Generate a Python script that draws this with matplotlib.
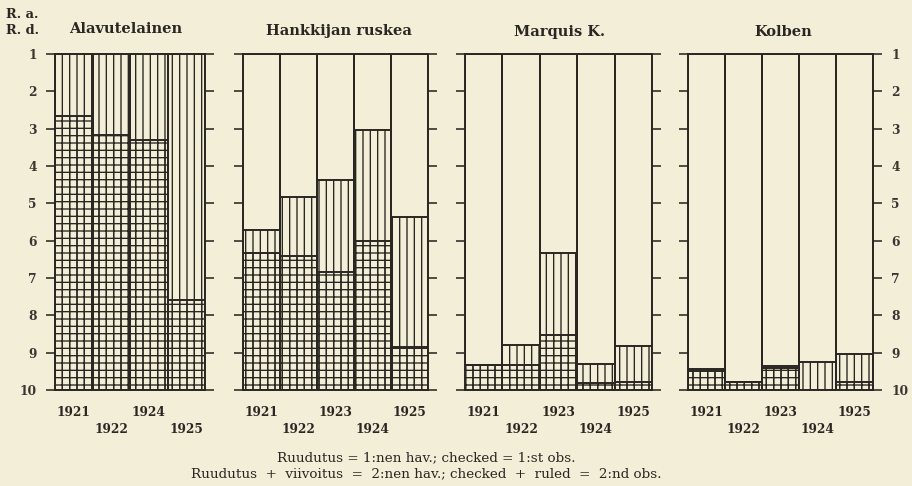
import matplotlib
matplotlib.use("Agg")
import matplotlib.pyplot as plt

# values (scale 1 = top, 10 = bottom)
years_ala = ["1921", "1922", "1924", "1925"]
years = ["1921", "1922", "1923", "1924", "1925"]

ala_checked = [2.67, 3.18, 3.30, 7.59]
ala_ruled = [1.0, 1.0, 1.0, 1.0]

hank_checked = [6.32, 6.41, 6.85, 6.00, 8.84]
hank_ruled = [5.72, 4.83, 4.38, 3.04, 5.37]

marq_checked = [9.32, 9.32, 8.53, 9.80, 9.78]
marq_ruled = [9.32, 8.80, 6.33, 9.30, 8.83]

kolb_checked = [9.48, 9.78, 9.42, 10.0, 9.78]
kolb_ruled = [9.45, 9.78, 9.37, 9.26, 9.03]

paper = "#f2eed8"
ink = "#2a2622"
W, H, DPI = 912, 486, 88

plt.rcParams["font.family"] = "DejaVu Serif"
plt.rcParams["hatch.linewidth"] = 1.1

fig = plt.figure(figsize=(W / DPI, H / DPI), dpi=DPI, facecolor=paper)


def panel(x0, w, labels, checked, ruled, left_lab=False, right_lab=False):
    top, bot = 54, 390
    ax = fig.add_axes([x0 / W, 1 - bot / H, w / W, (bot - top) / H])
    ax.set_facecolor("none")
    n = len(labels)
    pos = list(range(n))
    ax.bar(pos, [9] * n, bottom=1, width=1, align="edge",
           facecolor="none", edgecolor=ink, lw=1.6)
    ax.bar(pos, [10 - r for r in ruled], bottom=ruled, width=1, align="edge",
           facecolor="none", edgecolor=ink, hatch="||", lw=1.6)
    ax.bar(pos, [10 - c for c in checked], bottom=checked, width=1, align="edge",
           facecolor="none", edgecolor=ink, hatch="++", lw=1.6)
    ax.set_xlim(0, n)
    ax.set_ylim(10, 1)
    ax.set_xticks([])
    ax.set_yticks(range(1, 11))
    ax.tick_params(axis="y", left=True, right=True, direction="out", length=7,
                   width=1.3, color=ink, labelleft=left_lab, labelright=right_lab,
                   labelsize=10, labelcolor="#3a3530", pad=8)
    for t in ax.get_yticklabels():
        t.set_fontweight("bold")
    for s in ax.spines.values():
        s.set_color(ink)
        s.set_linewidth(1.6)
    tr = ax.get_xaxis_transform()
    for i, lab in enumerate(labels):
        y = -0.068 if i % 2 == 0 else -0.119
        ax.text(i + 0.5, y, lab, transform=tr, ha="center", va="center",
                fontsize=10, fontweight="bold", color=ink)
    return ax


panel(55, 150, years_ala, ala_checked, ala_ruled, left_lab=True)
panel(243, 185, years, hank_checked, hank_ruled)
panel(465, 187, years, marq_checked, marq_ruled)
panel(688, 185, years, kolb_checked, kolb_ruled, right_lab=True)


def ftext(x, y, s, **kw):
    fig.text(x / W, 1 - y / H, s, va="center", color=ink, **kw)


ftext(126, 29, "Alavutelainen", ha="center", fontsize=12, fontweight="bold")
ftext(339, 31, "Hankkijan ruskea", ha="center", fontsize=12, fontweight="bold")
ftext(560, 32, "Marquis K.", ha="center", fontsize=12, fontweight="bold")
ftext(783, 32, "Kolben", ha="center", fontsize=12, fontweight="bold")
ftext(6, 15, "R. a.", ha="left", fontsize=10.5, fontweight="bold")
ftext(6, 30, "R. d.", ha="left", fontsize=10.5, fontweight="bold")

ftext(426, 458, "Ruudutus = 1:nen hav.; checked = 1:st obs.", ha="center",
      fontsize=11)
ftext(426, 474, "Ruudutus  +  viivoitus  =  2:nen hav.; checked  +  ruled  =  2:nd obs.",
      ha="center", fontsize=11)

fig.savefig("out.png", dpi=DPI, facecolor=paper)
